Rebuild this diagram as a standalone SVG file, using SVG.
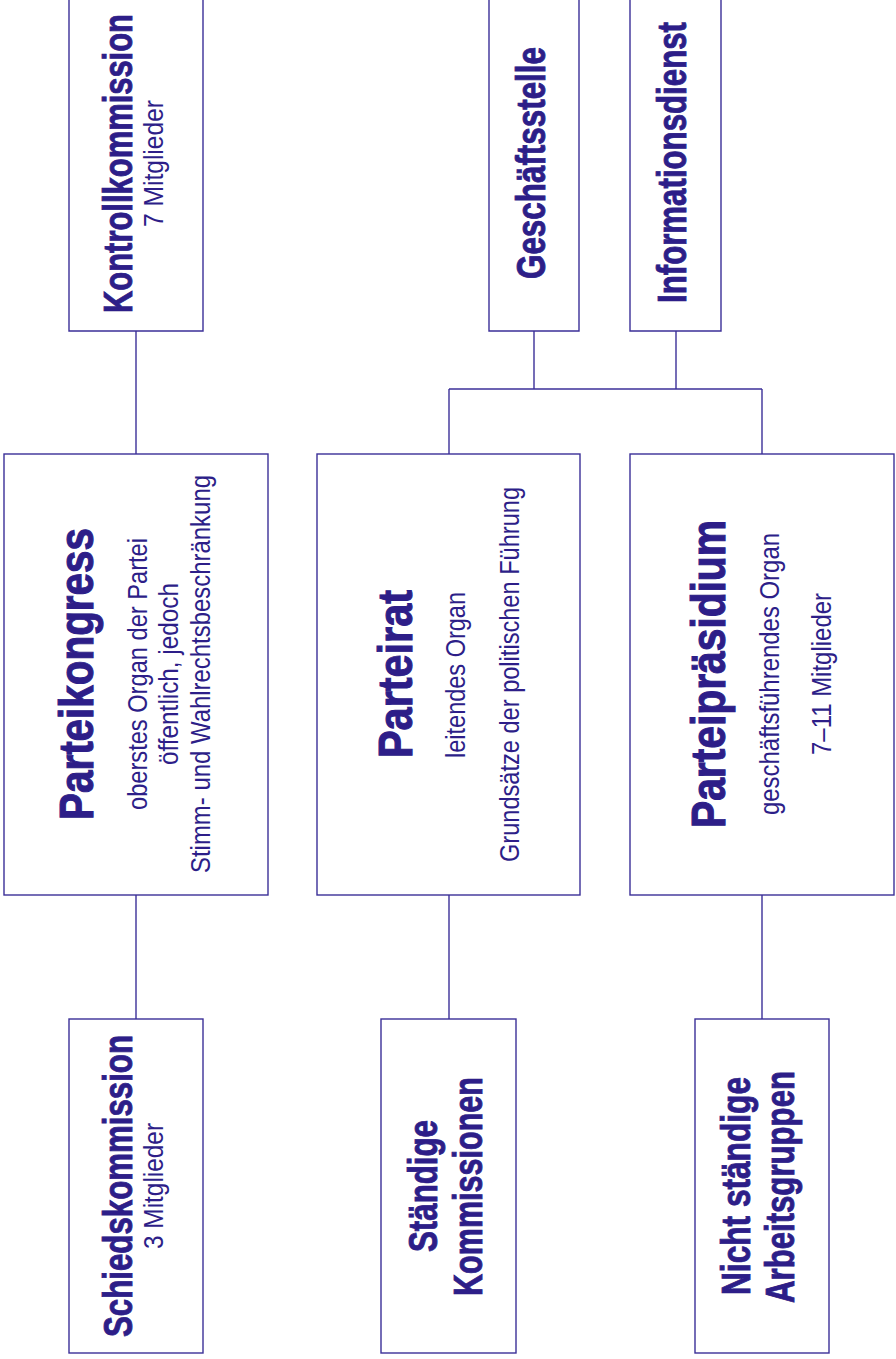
<svg xmlns="http://www.w3.org/2000/svg" width="896" height="1359" viewBox="0 0 896 1359">
<style>
.box{fill:#ffffff;stroke:#3b2f98;stroke-width:1.4}
.conn path{fill:none;stroke:#3b2f98;stroke-width:1.4}
text{fill:#2d1e88;font-family:"Liberation Sans Narrow","Liberation Sans",Arial,sans-serif;text-anchor:middle}
.t1{font-weight:bold;font-size:40px;stroke:#2d1e88;stroke-width:0.9}
.t0{font-weight:bold;font-size:49px;stroke:#2d1e88;stroke-width:1.1}
.s{font-size:27px}
</style>
<rect width="896" height="1359" fill="#ffffff"/>
<g id="connectors" class="conn">
<path d="M136 331V454"/>
<path d="M136 895V1019"/>
<path d="M534 331V389"/>
<path d="M676 331V389"/>
<path d="M449 389H762"/>
<path d="M449 389V454"/>
<path d="M762 389V454"/>
<path d="M449 895V1019"/>
<path d="M762 895V1019"/>
</g>
<g id="kontrollkommission">
<path class="box" d="M69 0V331H203V0"/>
<text class="t1" transform="translate(132,163.5) rotate(-90)" textLength="299" lengthAdjust="spacingAndGlyphs">Kontrollkommission</text>
<text class="s" transform="translate(163,163.5) rotate(-90)" textLength="127" lengthAdjust="spacingAndGlyphs">7 Mitglieder</text>
</g>
<g id="geschaeftsstelle">
<path class="box" d="M489 0V331H579V0"/>
<text class="t1" transform="translate(545,163) rotate(-90)" textLength="232" lengthAdjust="spacingAndGlyphs">Geschäftsstelle</text>
</g>
<g id="informationsdienst">
<path class="box" d="M630 0V331H721V0"/>
<text class="t1" transform="translate(686,162.5) rotate(-90)" textLength="281" lengthAdjust="spacingAndGlyphs">Informationsdienst</text>
</g>
<g id="parteikongress">
<rect class="box" x="4" y="454" width="264" height="441"/>
<text class="t0" transform="translate(93,674) rotate(-90)" textLength="292" lengthAdjust="spacingAndGlyphs">Parteikongress</text>
<text class="s" transform="translate(147,674) rotate(-90)" textLength="272" lengthAdjust="spacingAndGlyphs">oberstes Organ der Partei</text>
<text class="s" transform="translate(178,674) rotate(-90)" textLength="182" lengthAdjust="spacingAndGlyphs">öffentlich, jedoch</text>
<text class="s" transform="translate(210,674) rotate(-90)" textLength="398" lengthAdjust="spacingAndGlyphs">Stimm- und Wahlrechtsbeschränkung</text>
</g>
<g id="parteirat">
<rect class="box" x="317" y="454" width="263" height="441"/>
<text class="t0" transform="translate(412,674) rotate(-90)" textLength="168" lengthAdjust="spacingAndGlyphs">Parteirat</text>
<text class="s" transform="translate(465,675) rotate(-90)" textLength="166" lengthAdjust="spacingAndGlyphs">leitendes Organ</text>
<text class="s" transform="translate(519,674.5) rotate(-90)" textLength="375" lengthAdjust="spacingAndGlyphs">Grundsätze der politischen Führung</text>
</g>
<g id="parteipraesidium">
<rect class="box" x="630" y="454" width="264" height="441"/>
<text class="t0" transform="translate(725,674) rotate(-90)" textLength="308" lengthAdjust="spacingAndGlyphs">Parteipräsidium</text>
<text class="s" transform="translate(779,674) rotate(-90)" textLength="282" lengthAdjust="spacingAndGlyphs">geschäftsführendes Organ</text>
<text class="s" transform="translate(831,674) rotate(-90)" textLength="162" lengthAdjust="spacingAndGlyphs">7–11 Mitglieder</text>
</g>
<g id="schiedskommission">
<rect class="box" x="69" y="1019" width="134" height="334"/>
<text class="t1" transform="translate(132,1186) rotate(-90)" textLength="302" lengthAdjust="spacingAndGlyphs">Schiedskommission</text>
<text class="s" transform="translate(163,1186) rotate(-90)" textLength="126" lengthAdjust="spacingAndGlyphs">3 Mitglieder</text>
</g>
<g id="staendige-kommissionen">
<rect class="box" x="381" y="1019" width="135" height="334"/>
<text class="t1" transform="translate(437,1186) rotate(-90)" textLength="132" lengthAdjust="spacingAndGlyphs">Ständige</text>
<text class="t1" transform="translate(482,1186.5) rotate(-90)" textLength="219" lengthAdjust="spacingAndGlyphs">Kommissionen</text>
</g>
<g id="nicht-staendige-arbeitsgruppen">
<rect class="box" x="695" y="1019" width="134" height="334"/>
<text class="t1" transform="translate(750,1186) rotate(-90)" textLength="218" lengthAdjust="spacingAndGlyphs">Nicht ständige</text>
<text class="t1" transform="translate(794,1187) rotate(-90)" textLength="232" lengthAdjust="spacingAndGlyphs">Arbeitsgruppen</text>
</g>
</svg>
